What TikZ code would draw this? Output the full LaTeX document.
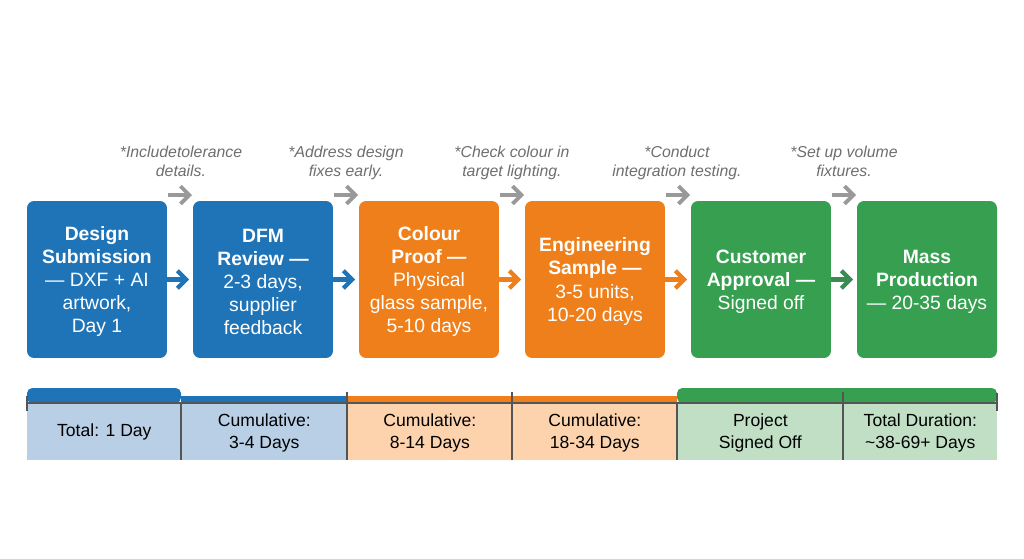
\documentclass[tikz,border=0pt]{standalone}
\usepackage{fontspec}
\setmainfont{Liberation Sans}
\usetikzlibrary{arrows.meta}
\definecolor{stepblue}{HTML}{1F74B8}
\definecolor{steporange}{HTML}{EE7F1A}
\definecolor{stepgreen}{HTML}{36A050}
\definecolor{arrowgreen}{HTML}{3A8C52}
\definecolor{cellblue}{HTML}{B9CFE6}
\definecolor{cellorange}{HTML}{FDD3AE}
\definecolor{cellgreen}{HTML}{C1DFC5}
\definecolor{notegray}{HTML}{6E6E6E}
\definecolor{tipgray}{HTML}{999999}
\definecolor{rulegray}{HTML}{555555}
\newcommand{\droptext}[1]{\rule{0pt}{#1}}
\begin{document}
\begin{tikzpicture}[x=0.02cm,y=-0.02cm,
    stepbox/.style={rectangle,rounded corners=4pt,minimum width=2.8cm,minimum
        height=3.14cm,inner sep=0pt,align=center,text=white,
        font=\fontsize{11}{13.2}\selectfont},
    note/.style={align=center,inner sep=0pt,text=notegray,
        font=\fontsize{9}{10.8}\selectfont\itshape},
    cell/.style={rectangle,anchor=north west,minimum height=1.14cm,inner sep=0pt,
        align=center,text=black,font=\fontsize{10}{12.2}\selectfont},
    flow/.style={-{Straight Barb[length=5pt,width=10pt]},line width=2.4pt,shorten >=2pt},
    tip/.style={-{Straight Barb[length=5pt,width=10pt]},line width=2.2pt,tipgray},
    divider/.style={rulegray,line width=0.8pt}]

    \useasboundingbox (0,0) rectangle (1024,558);

    % the steps

    \node[stepbox,fill=stepblue] (design) at (97,279.5) {\droptext{10.3pt}\textbf{Design}\\\textbf{Submission}\\--- DXF + AI\\artwork,\\Day 1};
    \node[stepbox,fill=stepblue] (dfm) at (263,279.5) {\droptext{10.3pt}\textbf{DFM}\\\textbf{Review ---}\\2-3 days,\\supplier\\feedback};
    \node[stepbox,fill=steporange] (proof) at (429,279.5) {\droptext{10.3pt}\textbf{Colour}\\\textbf{Proof ---}\\Physical\\glass sample,\\5-10 days};
    \node[stepbox,fill=steporange] (sample) at (595,279.5) {\droptext{10.3pt}\textbf{Engineering}\\\textbf{Sample ---}\\3-5 units,\\10-20 days};
    \node[stepbox,fill=stepgreen] (approval) at (761,279.5) {\droptext{10.3pt}\textbf{Customer}\\\textbf{Approval ---}\\Signed off};
    \node[stepbox,fill=stepgreen] (mass) at (927,279.5) {\droptext{10.3pt}\textbf{Mass}\\\textbf{Production}\\--- 20-35 days};

    \draw[flow,stepblue] (design) to (dfm);
    \draw[flow,stepblue] (dfm) to (proof);
    \draw[flow,steporange] (proof) to (sample);
    \draw[flow,steporange] (sample) to (approval);
    \draw[flow,arrowgreen] (approval) to (mass);

    % the notes

    \node[note] (note1) at (181,161) {*Includetolerance\\details.};
    \node[note] (note2) at (346,162.5) {*Address design\\fixes early.};
    \node[note] (note3) at (512,162.5) {*Check colour in\\target lighting.};
    \node[note] (note4) at (677,162.5) {*Conduct\\integration testing.};
    \node[note] (note5) at (844,161) {*Set up volume\\fixtures.};

    \coordinate (tip1a) at (168,195);
    \coordinate (tip1b) at (192,195);
    \coordinate (tip2a) at (334,195);
    \coordinate (tip2b) at (358,195);
    \coordinate (tip3a) at (500,195);
    \coordinate (tip3b) at (524,195);
    \coordinate (tip4a) at (666,195);
    \coordinate (tip4b) at (690,195);
    \coordinate (tip5a) at (832,195);
    \coordinate (tip5b) at (856,195);

    \draw[tip] (tip1a) to (tip1b);
    \draw[tip] (tip2a) to (tip2b);
    \draw[tip] (tip3a) to (tip3b);
    \draw[tip] (tip4a) to (tip4b);
    \draw[tip] (tip5a) to (tip5b);

    % the totals

    \node[cell,fill=cellblue,minimum width=3.08cm] (total1) at (27,403) {Total: 1 Day};
    \node[cell,fill=cellblue,minimum width=3.32cm] (total2) at (181,403) {\droptext{8.6pt}Cumulative:\\3-4 Days};
    \node[cell,fill=cellorange,minimum width=3.3cm] (total3) at (347,403) {\droptext{8.6pt}Cumulative:\\8-14 Days};
    \node[cell,fill=cellorange,minimum width=3.3cm] (total4) at (512,403) {\droptext{8.6pt}Cumulative:\\18-34 Days};
    \node[cell,fill=cellgreen,minimum width=3.32cm] (total5) at (677,403) {\droptext{8.6pt}Project\\Signed Off};
    \node[cell,fill=cellgreen,minimum width=3.08cm] (total6) at (843,403) {\droptext{8.6pt}Total Duration:\\\textasciitilde38-69+ Days};

    \fill[stepblue] (181,396) rectangle (347,403);
    \fill[stepblue,rounded corners=3pt] (27,403) -- (27,388) -- (181,388) -- (181,403) -- cycle;
    \fill[steporange] (347,396) rectangle (677,403);
    \fill[stepgreen,rounded corners=3pt] (677,403) -- (677,388) -- (997,388) -- (997,403) -- cycle;

    \draw[divider] (27,403) -- (997,403);
    \draw[divider] (27,396) -- (27,411);
    \draw[divider] (181,403) -- (181,460);
    \draw[divider] (347,392) -- (347,460);
    \draw[divider] (512,392) -- (512,460);
    \draw[divider] (677,403) -- (677,460);
    \draw[divider] (843,392) -- (843,460);
    \draw[divider] (997,393) -- (997,411);
\end{tikzpicture}
\end{document}
